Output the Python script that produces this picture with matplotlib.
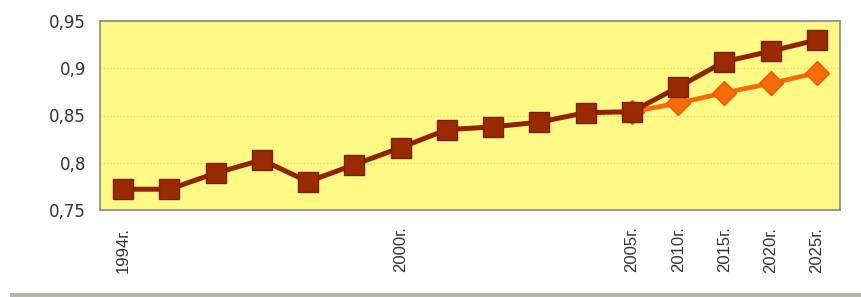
import matplotlib
matplotlib.use("Agg")
import matplotlib.pyplot as plt
from matplotlib.patches import Rectangle

plt.rcParams['font.family'] = ['Liberation Sans', 'DejaVu Sans']

years = ["1994г.", "1995г.", "1996г.", "1997г.", "1998г.", "1999г.", "2000г.", "2001г.",
         "2002г.", "2003г.", "2004г.", "2005г.", "2010г.", "2015г.", "2020г.", "2025г."]
shown_labels = ["1994г.", "", "", "", "", "", "2000г.", "", "", "", "", "2005г.",
                "2010г.", "2015г.", "2020г.", "2025г."]
series_high = [0.772, 0.772, 0.789, 0.803, 0.780, 0.798, 0.816, 0.835,
               0.838, 0.843, 0.853, 0.854, 0.880, 0.907, 0.918, 0.930]
series_low_years = ["2005г.", "2010г.", "2015г.", "2020г.", "2025г."]
series_low = [0.854, 0.863, 0.874, 0.884, 0.895]
yticks = [0.75, 0.8, 0.85, 0.9, 0.95]
ytick_labels = ["0,75", "0,8", "0,85", "0,9", "0,95"]

fig = plt.figure(figsize=(8.61, 2.97), dpi=100)
ax = fig.add_axes([100/861, 87/297, 740/861, 189/297])
ax.set_facecolor('#FEF884')

x_all = list(range(len(years)))
x_low = [years.index(y) for y in series_low_years]

ax.plot(x_low, series_low, color='#F76B0A', lw=3.4, marker='D', markersize=12,
        markerfacecolor='#F76B0A', markeredgecolor='#E85A00', zorder=2)
ax.plot(x_all, series_high, color='#8E2400', lw=3.6, marker='s', markersize=14,
        markerfacecolor='#9A2A00', markeredgecolor='#7A1E00', zorder=3)

ax.set_xlim(-0.5, len(years) - 0.5)
ax.set_ylim(0.75, 0.95)
ax.set_yticks(yticks)
ax.set_yticklabels(ytick_labels, fontsize=12, color='#333333', family=['DejaVu Sans'])
ax.set_xticks(x_all)
ax.set_xticklabels(shown_labels, rotation=90, fontsize=12, color='#333333')
ax.tick_params(axis='x', length=0, pad=12)
ax.tick_params(axis='y', length=0, pad=10)

ax.yaxis.grid(True, linestyle=(0, (1, 2)), color='#D8CF6A', linewidth=0.8)
ax.set_axisbelow(True)
for s in ax.spines.values():
    s.set_color('#8A8A80')
    s.set_linewidth(1.2)

fig.text(0.508, 0.988, "ИЧР  РФ", color='#1414C8', fontsize=16, weight='bold',
         ha='center', va='bottom')
fig.patches.append(Rectangle((10/861, 0), 851/861, 4/297, transform=fig.transFigure,
                             facecolor='#B5B8A8', edgecolor='none'))

fig.savefig('out.png', dpi=100)
